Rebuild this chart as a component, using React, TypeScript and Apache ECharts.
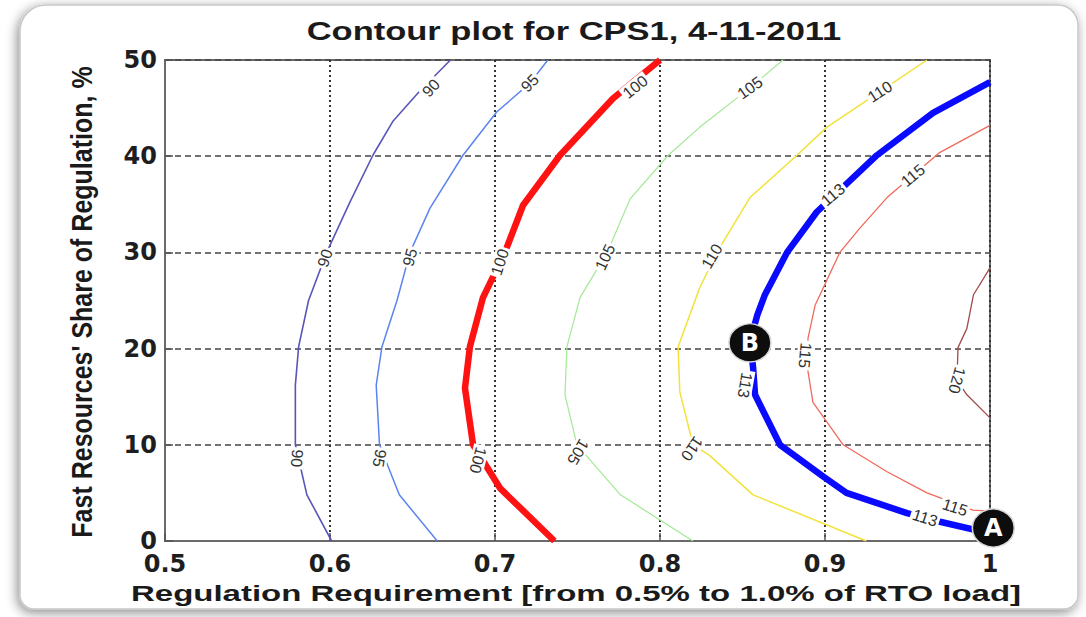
import React, { useEffect, useRef } from "react";
import * as echarts from "echarts";

// ---------- data ----------
const titleText = "Contour plot for CPS1, 4-11-2011";
const xName = "Regulation Requirement [from 0.5% to 1.0% of RTO load]";
const yName = "Fast Resources' Share of Regulation, %";

const xTicks = ["0.5", "0.6", "0.7", "0.8", "0.9", "1"];
const yTicks = ["0", "10", "20", "30", "40", "50"];

const levels = [90, 95, 100, 105, 110, 113, 115, 120];

const c90 = [[0.601, 0], [0.586, 4.8], [0.579, 10], [0.579, 16.2], [0.581, 20.2], [0.587, 25], [0.598, 30], [0.612, 35.2], [0.626, 40.1], [0.638, 43.6], [0.654, 46.7], [0.673, 50]];
const c95 = [[0.665, 0], [0.642, 4.8], [0.63, 10], [0.628, 16.2], [0.6315, 20.2], [0.6406, 25], [0.6485, 30], [0.6606, 34.6], [0.6806, 40.1], [0.701, 44.6], [0.7212, 47.6], [0.732, 50]];
const c100 = [[0.736, 0], [0.703, 5.5], [0.6867, 10], [0.6818, 15.9], [0.6848, 20.2], [0.6927, 25.3], [0.706, 30], [0.717, 34.9], [0.7394, 40.1], [0.7715, 46], [0.8, 50]];
const c105 = [[0.82, 0], [0.776, 4.8], [0.7497, 10], [0.7424, 15.2], [0.7436, 20.2], [0.7515, 25.3], [0.768, 30], [0.782, 35.6], [0.805, 40.1], [0.824, 43], [0.8545, 47.1], [0.8745, 50]];
const c110 = [[0.925, 0], [0.8564, 4.8], [0.83, 8.9], [0.82, 10], [0.812, 15.5], [0.811, 20.2], [0.824, 26.3], [0.8345, 30], [0.8545, 35.7], [0.883, 40.1], [0.901, 43], [0.9333, 46.7], [0.9618, 50]];
const c113 = [[1.0, 0.8], [0.9697, 2.0], [0.9497, 2.9], [0.913, 5.0], [0.899, 6.7], [0.8727, 10], [0.8576, 15.2], [0.8564, 18.1], [0.8545, 20.7], [0.859, 23.5], [0.8636, 25.6], [0.877, 30], [0.895, 34.2], [0.9315, 40.1], [0.9655, 44.5], [1.0, 47.7]];
const c115 = [[1.0, 3.1], [0.9897, 3.2], [0.9618, 5.0], [0.9376, 7.2], [0.911, 10], [0.8927, 14.4], [0.8897, 17.6], [0.8897, 21.1], [0.894, 24.5], [0.909, 30], [0.921, 32.5], [0.9376, 35.7], [0.9697, 40.4], [1.0, 43.2]];
const c120 = [[1.0, 28.4], [0.99, 25.6], [0.986, 22.1], [0.9806, 20.1], [0.98, 16.7], [0.986, 15.2], [1.0, 12.8]];

const contourData = [c90, c95, c100, c105, c110, c113, c115, c120];

const labelTexts = ["90", "90", "90", "95", "95", "95", "100", "100", "100", "105", "105", "105", "110", "110", "110", "113", "113", "113", "115", "115", "115", "120"];
const labelPos = [[0.6612, 47.1], [0.597, 29.4], [0.58, 8.6], [0.7212, 47.6], [0.6485, 29.5], [0.63, 8.6], [0.785, 47.2], [0.703, 29], [0.6897, 8.4], [0.8545, 47.1], [0.7667, 29.5], [0.7503, 9.25], [0.9333, 46.7], [0.8315, 29.6], [0.8194, 9.6], [0.9048, 36], [0.8515, 16.2], [0.9606, 2.4], [0.9533, 38], [0.8879, 19.3], [0.9788, 3.5], [0.98, 16.7]];

const markerNames = ["A", "B"];
const markerPos = [[1.002, 1.35], [0.8545, 20.6]];

// ---------- styles ----------
const contourColors = ["#5a55b8", "#5b84ee", "#ff1212", "#a3e896", "#f2e23a", "#0a0aff", "#f06a5c", "#a34a4a"];
const contourWidths = [1.6, 1.5, 6.5, 1.2, 1.5, 6.5, 1.3, 1.3];
const labelAngles = [47, 72, -95, 45, 75, -100, 39, 72, -105, 35, 65, -120, 33, 60, -125, 40, -100, -18, 40, -95, -18, -105];

export default function App() {
  const ref = useRef<HTMLDivElement>(null);
  useEffect(() => {
    const chart = echarts.init(ref.current!, null, { renderer: "svg" });

    const lineSeries = levels.map((lv, i) => ({
      name: String(lv),
      type: "line",
      data: contourData[i],
      showSymbol: false,
      symbol: "none",
      smooth: false,
      lineStyle: { color: contourColors[i], width: contourWidths[i] },
      z: 3,
    }));

    const option: any = {
      animation: false,
      backgroundColor: "#ffffff",
      graphic: [
        {
          type: "rect",
          z: -10,
          shape: { x: 20, y: 5, width: 1058, height: 604, r: [26, 20, 14, 14] },
          style: {
            fill: "#ffffff",
            stroke: "#c8c8c8",
            lineWidth: 1.5,
            shadowBlur: 12,
            shadowColor: "rgba(0,0,0,0.45)",
            shadowOffsetX: -2,
            shadowOffsetY: 3,
          },
          silent: true,
        },
        {
          type: "text",
          x: 574,
          y: 31,
          scaleX: 1.38,
          style: {
            text: titleText,
            font: "bold 25px 'Liberation Sans', Arial, sans-serif",
            fill: "#1a1a1a",
            textAlign: "center",
            textVerticalAlign: "middle",
          },
        },
        {
          type: "text",
          x: 576,
          y: 594,
          scaleX: 1.5,
          style: {
            text: xName,
            font: "bold 22px 'Liberation Sans', Arial, sans-serif",
            fill: "#1a1a1a",
            textAlign: "center",
            textVerticalAlign: "middle",
          },
        },
        {
          type: "text",
          x: 82,
          y: 302,
          rotation: Math.PI / 2,
          scaleY: 1.15,
          style: {
            text: yName,
            font: "bold 25px 'Liberation Sans', Arial, sans-serif",
            fill: "#1a1a1a",
            textAlign: "center",
            textVerticalAlign: "middle",
          },
        },
      ],
      grid: {
        left: 165,
        right: 96,
        top: 60,
        bottom: 76,
        show: true,
        borderColor: "#6a6a6a",
        borderWidth: 2,
        backgroundColor: "transparent",
      },
      xAxis: {
        type: "value",
        min: 0.5,
        max: 1,
        interval: 0.1,
        axisLine: { show: true, lineStyle: { color: "#6a6a6a", width: 2 } },
        axisTick: { show: true, inside: true, length: 8, lineStyle: { color: "#555", width: 1.5 } },
        axisLabel: {
          formatter: (_v: number, i: number) => xTicks[i],
          fontFamily: "'DejaVu Sans', sans-serif",
          fontWeight: "bold",
          fontSize: 24,
          color: "#1e1e1e",
          margin: 11,
        },
        splitLine: { show: true, lineStyle: { color: "#333", type: [2, 3], width: 2 } },
      },
      yAxis: {
        type: "value",
        min: 0,
        max: 50,
        interval: 10,
        axisLine: { show: true, lineStyle: { color: "#6a6a6a", width: 2 } },
        axisTick: { show: true, inside: true, length: 8, lineStyle: { color: "#555", width: 1.5 } },
        axisLabel: {
          formatter: (_v: number, i: number) => yTicks[i],
          fontFamily: "'DejaVu Sans', sans-serif",
          fontWeight: "bold",
          fontSize: 24,
          color: "#1e1e1e",
          margin: 8,
        },
        splitLine: { show: true, lineStyle: { color: "#444", type: [6, 4], width: 1.5 } },
      },
      series: [
        ...lineSeries,
        {
          name: "labels",
          type: "scatter",
          symbolSize: 1,
          itemStyle: { color: "rgba(0,0,0,0)", opacity: 1 },
          z: 5,
          clip: false,
          data: labelTexts.map((t, i) => ({
            name: t,
            value: labelPos[i],
            label: { rotate: labelAngles[i] },
          })),
          label: {
            show: true,
            position: "inside",
            formatter: (p: any) => p.name,
            fontFamily: "'Liberation Sans', Arial, sans-serif",
            fontSize: 16,
            color: "#333",
            backgroundColor: "#ffffff",
            padding: [0, 2],
          },
        },
        {
          name: "points",
          type: "scatter",
          symbol: "circle",
          symbolSize: [42, 38],
          clip: false,
          z: 8,
          itemStyle: { color: "#0d0d0d", borderColor: "#d8d8d8", borderWidth: 1.5, opacity: 1 },
          data: markerNames.map((n, i) => ({ name: n, value: markerPos[i] })),
          label: {
            show: true,
            position: "inside",
            formatter: (p: any) => p.name,
            fontFamily: "'DejaVu Sans', sans-serif",
            fontWeight: "bold",
            fontSize: 24,
            color: "#ffffff",
          },
        },
      ],
    };

    chart.setOption(option);
    return () => chart.dispose();
  }, []);

  return <div ref={ref} style={{ position: "absolute", left: 0, top: 0, width: 1086, height: 617 }} />;
}
